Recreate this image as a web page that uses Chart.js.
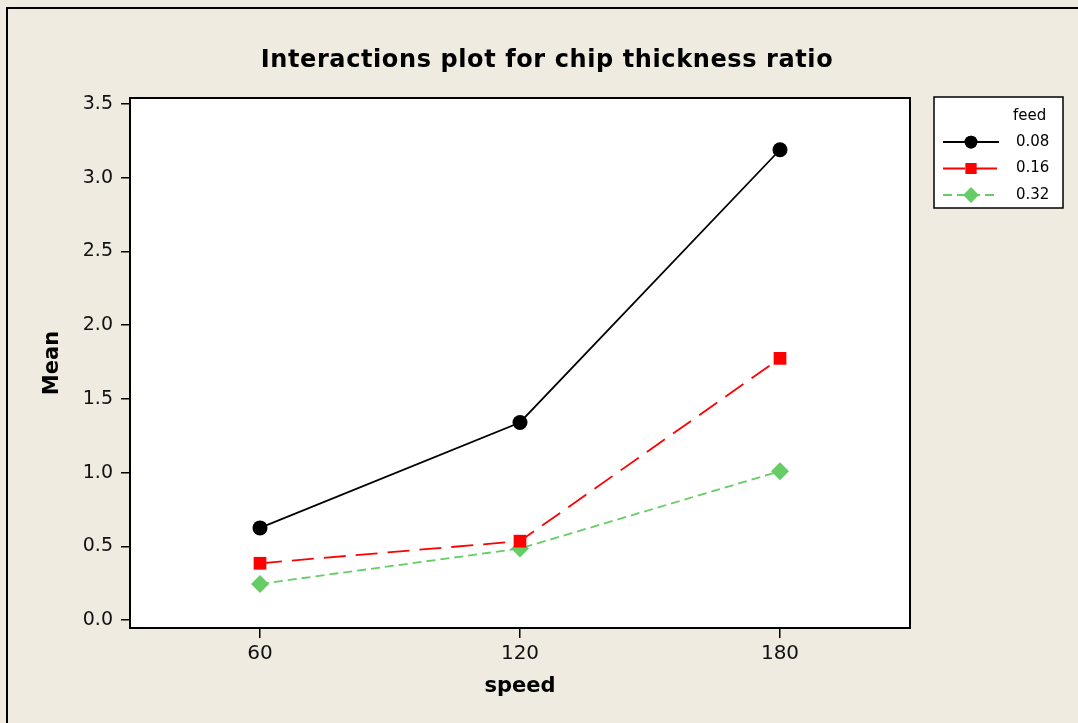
<!DOCTYPE html>
<html>
<head>
<meta charset="utf-8">
<script src="https://cdn.jsdelivr.net/npm/chart.js@4/dist/chart.umd.min.js"></script>
<style>
  html, body { margin: 0; padding: 0; background: #efebe1; }
  #frame {
    position: absolute; left: 6px; top: 7px; width: 1072px; height: 716px;
    border-top: 2px solid #000; border-left: 2px solid #000; box-sizing: border-box;
  }
  #wrap { position: absolute; left: 0; top: 0; width: 1078px; height: 723px; }
</style>
</head>
<body>
<div id="frame"></div>
<div id="wrap"><canvas id="chart" width="1078" height="723"></canvas></div>
<script>
const speeds = [60, 120, 180];
const feedLevels = ['0.08', '0.16', '0.32'];
const meanFeed008 = [0.625, 1.34, 3.19];
const meanFeed016 = [0.385, 0.535, 1.775];
const meanFeed032 = [0.245, 0.485, 1.01];
const xTicks = [60, 120, 180];
const yTicks = [0.0, 0.5, 1.0, 1.5, 2.0, 2.5, 3.0, 3.5];

const seriesStyle = [
    { color: '#000000', dash: [], shape: 'circle', radius: 7.5 },
    { color: '#ff0000', dash: [22, 10], shape: 'rect', radius: 9 },
    { color: '#66cc66', dash: [9, 5], shape: 'rectRot', radius: 9 }
];
const seriesValues = [meanFeed008, meanFeed016, meanFeed032];

const datasets = feedLevels.map(function (label, i) {
    const s = seriesStyle[i];
    return {
        label: label,
        data: speeds.map(function (x, j) { return { x: x, y: seriesValues[i][j] }; }),
        borderColor: s.color,
        backgroundColor: s.color,
        borderWidth: 1.8,
        borderDash: s.dash,
        pointStyle: s.shape,
        pointRadius: s.radius,
        pointHoverRadius: s.radius,
        pointBorderWidth: 0,
        tension: 0
    };
});

// white plot area, frame, title and legend box
const decorations = {
    id: 'decorations',
    beforeDatasetsDraw(chart) {
        const a = chart.chartArea, ctx = chart.ctx;
        ctx.save();
        ctx.fillStyle = '#ffffff';
        ctx.fillRect(a.left, a.top, a.right - a.left, a.bottom - a.top);
        ctx.restore();
    },
    afterDraw(chart) {
        const a = chart.chartArea, ctx = chart.ctx;
        ctx.save();
        ctx.strokeStyle = '#000';
        ctx.lineWidth = 2;
        ctx.strokeRect(a.left, a.top, a.right - a.left, a.bottom - a.top);

        ctx.fillStyle = '#000';
        ctx.font = 'bold 24px "DejaVu Sans"';
        ctx.letterSpacing = '0.6px';
        ctx.textAlign = 'center';
        ctx.textBaseline = 'middle';
        ctx.fillText('Interactions plot for chip thickness ratio', 547, 61);
        ctx.letterSpacing = '0px';

        // legend
        const lx = 934, ly = 97, lw = 129, lh = 111;
        ctx.fillStyle = '#fff';
        ctx.fillRect(lx, ly, lw, lh);
        ctx.lineWidth = 1.5;
        ctx.strokeRect(lx, ly, lw, lh);
        ctx.fillStyle = '#000';
        ctx.font = '15px "DejaVu Sans"';
        ctx.textAlign = 'left';
        ctx.fillText('feed', 1013, 116);
        chart.data.datasets.forEach(function (ds, i) {
            const y = 142 + i * 26.5;
            ctx.strokeStyle = ds.borderColor;
            ctx.lineWidth = 1.8;
            ctx.setLineDash(ds.borderDash);
            ctx.beginPath();
            ctx.moveTo(943, y);
            ctx.lineTo(999, y);
            ctx.stroke();
            ctx.setLineDash([]);
            ctx.fillStyle = ds.backgroundColor;
            Chart.helpers.drawPoint(ctx, { pointStyle: ds.pointStyle, radius: ds.pointRadius * 0.85, borderWidth: 0 }, 971, y);
            ctx.fill();
            ctx.fillStyle = '#000';
            ctx.fillText(ds.label, 1016, y);
        });
        ctx.restore();
    }
};

new Chart(document.getElementById('chart'), {
    type: 'line',
    data: { datasets: datasets },
    options: {
        responsive: false,
        animation: false,
        layout: { padding: { left: 0, top: 98, right: 168, bottom: 0 } },
        plugins: { legend: { display: false }, tooltip: { enabled: false } },
        scales: {
            x: {
                type: 'linear',
                min: 30,
                max: 210,
                afterBuildTicks: function (scale) { scale.ticks = xTicks.map(function (v) { return { value: v }; }); },
                afterFit: function (scale) { scale.height = 95; },
                grid: { display: true, drawOnChartArea: false, drawTicks: true, tickLength: 10, color: '#000', lineWidth: 1.5 },
                border: { display: false },
                ticks: { color: '#111', font: { family: 'DejaVu Sans', size: 20 }, padding: 4, maxRotation: 0 },
                title: { display: true, text: 'speed', color: '#000', font: { family: 'DejaVu Sans', size: 21, weight: 'bold' }, padding: { top: 0, bottom: 24 } }
            },
            y: {
                min: -0.054,
                max: 3.541,
                afterBuildTicks: function (scale) { scale.ticks = yTicks.map(function (v) { return { value: v }; }); },
                afterFit: function (scale) { scale.width = 130; },
                grid: { display: true, drawOnChartArea: false, drawTicks: true, tickLength: 9, color: '#000', lineWidth: 1.5 },
                border: { display: false },
                ticks: { color: '#111', font: { family: 'DejaVu Sans', size: 19 }, padding: 8,
                    callback: function (v) { return Number(v).toFixed(1); } },
                title: { display: true, text: 'Mean', color: '#000', font: { family: 'DejaVu Sans', size: 21, weight: 'bold' }, padding: { top: 40, bottom: 0 } }
            }
        }
    },
    plugins: [decorations]
});
</script>
</body>
</html>
